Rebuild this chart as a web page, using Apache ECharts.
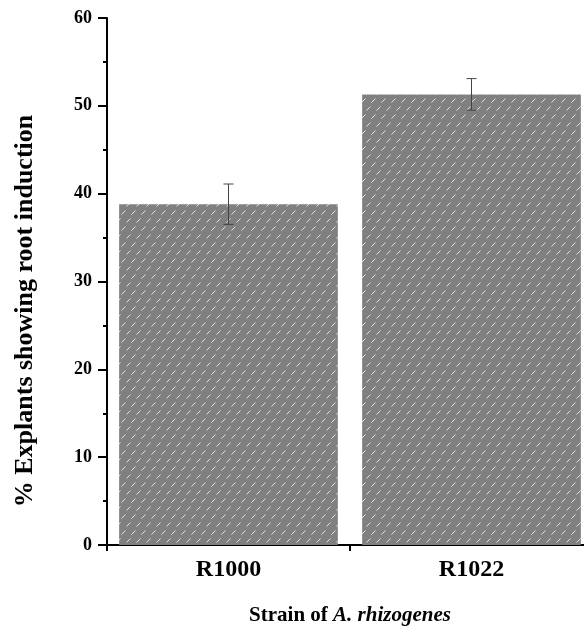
<!DOCTYPE html>
<html>
<head>
<meta charset="utf-8">
<script src="https://cdn.jsdelivr.net/npm/echarts@6/dist/echarts.min.js"></script>
<style>
  html, body { margin: 0; padding: 0; background: #fff; }
  #chart { width: 584px; height: 628px; }
</style>
</head>
<body>
<div id="chart"></div>
<script>
'use strict';

// data
const strains = ['R1000', 'R1022'];
const rootInduction = [38.8, 51.3];
const stdError = [2.3, 1.8];
const yTicks = [0, 10, 20, 30, 40, 50, 60];

const serif = '"Liberation Serif", "Times New Roman", serif';

// gray fill with short white diagonal dashes
function hatchTile() {
    const c = document.createElement('canvas');
    c.width = 10;
    c.height = 16;
    const ctx = c.getContext('2d');
    ctx.fillStyle = '#808080';
    ctx.fillRect(0, 0, 10, 16);
    ctx.strokeStyle = 'rgba(235,235,235,0.9)';
    ctx.lineWidth = 1;
    ctx.beginPath();
    ctx.moveTo(1.5, 6.5); ctx.lineTo(5.5, 2.5);
    ctx.moveTo(6.5, 14.5); ctx.lineTo(10.5, 10.5);
    ctx.moveTo(-3.5, 14.5); ctx.lineTo(0.5, 10.5);
    ctx.stroke();
    return c;
}

function renderErrorBar(params, api) {
    const x = api.coord([api.value(0), 0])[0];
    const top = api.coord([0, api.value(1) + api.value(2)])[1];
    const bottom = api.coord([0, api.value(1) - api.value(2)])[1];
    const cap = 5;
    const style = { stroke: '#444', lineWidth: 1 };
    return {
        type: 'group',
        children: [
            { type: 'line', shape: { x1: x, y1: top, x2: x, y2: bottom }, style },
            { type: 'line', shape: { x1: x - cap, y1: top, x2: x + cap, y2: top }, style },
            { type: 'line', shape: { x1: x - cap, y1: bottom, x2: x + cap, y2: bottom }, style }
        ]
    };
}

const myChart = echarts.init(document.getElementById('chart'));

const option = {
    animation: false,
    backgroundColor: '#fff',
    grid: { left: 107, width: 486, top: 18, height: 527, outerBoundsMode: 'none', containLabel: false },
    xAxis: {
        type: 'category',
        data: strains,
        name: '{b|Strain of }{i|A. rhizogenes}',
        nameLocation: 'middle',
        nameGap: 60,
        nameTextStyle: {
            rich: {
                b: { fontFamily: serif, fontWeight: 'bold', fontSize: 21, color: '#000' },
                i: { fontFamily: serif, fontWeight: 'bold', fontStyle: 'italic', fontSize: 21, color: '#000' }
            }
        },
        axisLine: { lineStyle: { color: '#000', width: 2 } },
        axisTick: { show: true, alignWithLabel: false, length: 6, lineStyle: { color: '#000', width: 2 } },
        axisLabel: { fontFamily: serif, fontWeight: 'bold', fontSize: 24, color: '#000', margin: 13 }
    },
    yAxis: {
        type: 'value',
        min: yTicks[0],
        max: yTicks[yTicks.length - 1],
        interval: 10,
        splitLine: { show: false },
        axisLine: { show: true, lineStyle: { color: '#000', width: 2 } },
        axisTick: { show: true, length: 9, lineStyle: { color: '#000', width: 2 } },
        minorTick: { show: true, splitNumber: 2, length: 4, lineStyle: { color: '#000', width: 2 } },
        axisLabel: { fontFamily: serif, fontWeight: 'bold', fontSize: 18, color: '#000', margin: 15 }
    },
    graphic: [{
        type: 'text',
        x: 25,
        y: 311,
        rotation: Math.PI / 2,
        style: {
            text: '% Explants showing root induction',
            fontFamily: serif,
            fontWeight: 'bold',
            fontSize: 26,
            fill: '#000',
            align: 'center',
            verticalAlign: 'middle'
        }
    }],
    series: [
        {
            type: 'bar',
            data: rootInduction,
            barWidth: '90%',
            itemStyle: { color: { image: hatchTile(), repeat: 'repeat' } }
        },
        {
            type: 'custom',
            renderItem: renderErrorBar,
            data: strains.map((s, i) => [i, rootInduction[i], stdError[i]]),
            z: 10
        }
    ]
};

myChart.setOption(option);
</script>
</body>
</html>
